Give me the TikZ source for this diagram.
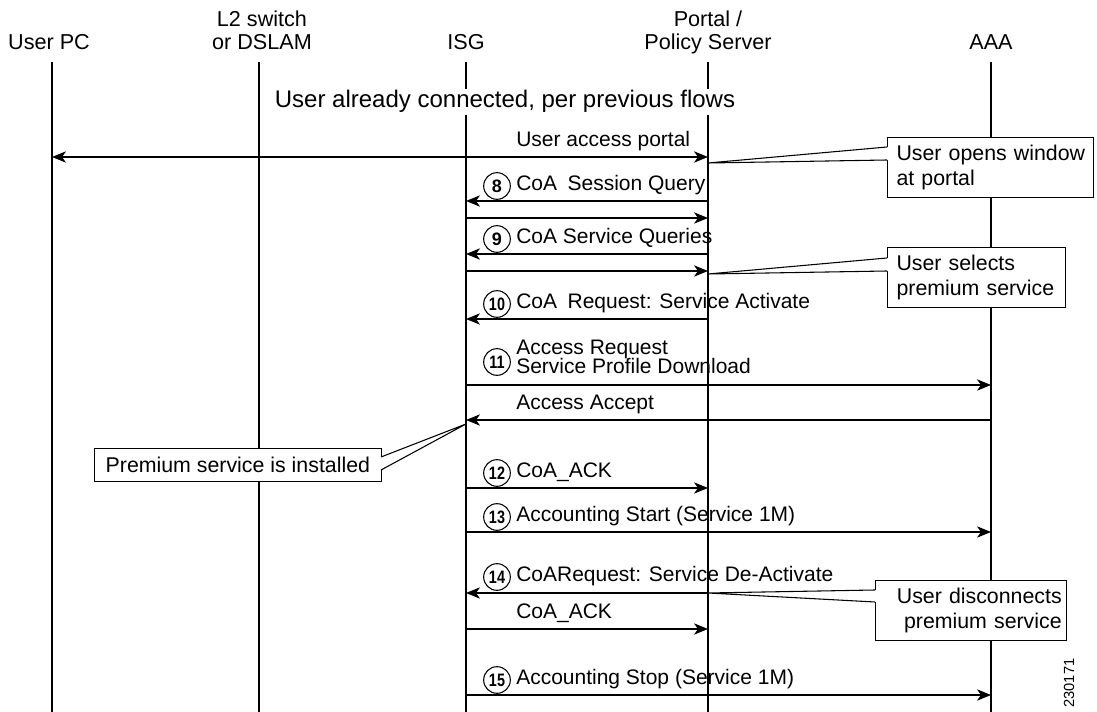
\documentclass[tikz,border=0pt]{standalone}
\usepackage{fontspec}
\setmainfont{Liberation Sans}
\usetikzlibrary{arrows.meta}
\begin{document}
\begin{tikzpicture}[x=0.75pt,y=-0.75pt,
  life/.style={line width=0.9pt},
  msg/.style={line width=0.9pt,-{Stealth[length=10.5pt,width=8.5pt,inset=3pt]}},
  msgboth/.style={line width=0.9pt,{Stealth[length=10.5pt,width=8.5pt,inset=3pt]}-{Stealth[length=10.5pt,width=8.5pt,inset=3pt]}},
  head/.style={font=\fontsize{16.2}{18}\selectfont, anchor=base, inner sep=0pt},
  lbl/.style={font=\fontsize{15.75}{15}\selectfont, anchor=base west, inner sep=0pt},
  num/.style={circle, draw, line width=0.8pt, minimum size=20pt, inner sep=0pt, font=\fontsize{13.5}{13.5}\bfseries},
  note/.style={draw, fill=white, line width=0.8pt, font=\fontsize{16}{18.5}\selectfont, align=left, inner sep=0pt, anchor=north west},
  callout/.style={line width=0.8pt}]
\useasboundingbox (0,0) rectangle (1097,712);
% headers
\node[head] (pc) at (49,50) {User PC};
\node[head] (l2a) at (262,27) {L2 switch};
\node[head] (l2b) at (262,50) {or DSLAM};
\node[head] (isg) at (466,50) {ISG};
\node[head] (pta) at (708,27) {Portal /};
\node[head] (ptb) at (708,50) {Policy Server};
\node[head] (aaa) at (991,50) {AAA};
% lifeline ends
\coordinate (pcT) at (52,62);   \coordinate (pcB) at (52,712);
\coordinate (l2T) at (259,62);  \coordinate (l2B) at (259,712);
\coordinate (isT) at (466,62);  \coordinate (isB) at (466,712);
\coordinate (poT) at (708,62);  \coordinate (poB) at (708,712);
\coordinate (aaT) at (991,62);  \coordinate (aaB) at (991,712);
\draw[life] (pcT) -- (pcB);
\draw[life] (l2T) -- (l2B);
\draw[life] (isT) -- (isB);
\draw[life] (poT) -- (poB);
\draw[life] (aaT) -- (aaB);
\node[font=\fontsize{18}{18}\selectfont, anchor=base, fill=white, inner xsep=0pt, inner ysep=1.5pt] (conn) at (505,108) {User already connected, per previous flows};
% message end points
\foreach \n/\y in {m0/157,m8/201,m8b/218,m9/254,m9b/271,m10/319,m11/385,mAA/420,m12/488,m13/532,m14/593,mACK/629,m15/695}{
  \coordinate (\n pc) at (52,\y);
  \coordinate (\n is) at (466,\y);
  \coordinate (\n po) at (708,\y);
  \coordinate (\n aa) at (991,\y);
}
% messages
\draw[msgboth] (m0pc) -- (m0po);
\node[lbl] (t0) at (516,147) {User access portal};
\draw[msg] (m8po) -- (m8is);
\node[num] (c8) at (497,186) {8};
\node[lbl] (t8) at (516,191) {CoA\hspace{0.5em}Session Query};
\draw[msg] (m8bis) -- (m8bpo);
\draw[msg] (m9po) -- (m9is);
\node[num] (c9) at (497,239) {9};
\node[lbl] (t9) at (516,244) {CoA Service Queries};
\draw[msg] (m9bis) -- (m9bpo);
\draw[msg] (m10po) -- (m10is);
\node[num] (c10) at (497,304) {\addfontfeature{FakeStretch=0.8}10};
\node[lbl] (t10) at (516,309) {CoA\hspace{0.5em}Request: Service Activate};
\draw[msg] (m11is) -- (m11aa);
\node[num] (c11) at (497,362) {\addfontfeature{FakeStretch=0.8}11};
\node[lbl] (t11a) at (516,355) {Access Request};
\node[lbl] (t11b) at (516,374) {Service Profile Download};
\draw[msg] (mAAaa) -- (mAAis);
\node[lbl] (tAA) at (516,410) {Access Accept};
\draw[msg] (m12is) -- (m12po);
\node[num] (c12) at (497,473) {\addfontfeature{FakeStretch=0.8}12};
\node[lbl] (t12) at (516,478) {CoA\_ACK};
\draw[msg] (m13is) -- (m13aa);
\node[num] (c13) at (497,517) {\addfontfeature{FakeStretch=0.8}13};
\node[lbl] (t13) at (516,522) {Accounting Start (Service 1M)};
\draw[msg] (m14po) -- (m14is);
\node[num] (c14) at (497,577) {\addfontfeature{FakeStretch=0.8}14};
\node[lbl] (t14) at (516,582) {CoARequest: Service De-Activate};
\draw[msg] (mACKis) -- (mACKpo);
\node[lbl] (tACK) at (516,619) {CoA\_ACK};
\draw[msg] (m15is) -- (m15aa);
\node[num] (c15) at (497,680) {\addfontfeature{FakeStretch=0.8}15};
\node[lbl] (t15) at (516,685) {Accounting Stop (Service 1M)};
% notes
\node[note, minimum width=154.5pt, minimum height=45pt, text width=141pt] (n1) at (887,137) {\mbox{User opens window}\\at portal};
\coordinate (n1tip) at (708,163);
\coordinate (n1a) at (887,147); \coordinate (n1b) at (887,160);
\coordinate (n1ai) at (888.5,147); \coordinate (n1bi) at (888.5,160);
\fill[white] (n1tip) -- (n1ai) -- (n1bi) -- cycle;
\draw[callout] (n1a) -- (n1tip) -- (n1b);

\node[note, minimum width=133.5pt, minimum height=45pt, text width=120pt] (n2) at (887,247) {User selects\\premium service};
\coordinate (n2tip) at (708,274);
\coordinate (n2a) at (887,258); \coordinate (n2b) at (887,271);
\coordinate (n2ai) at (888.5,258); \coordinate (n2bi) at (888.5,271);
\fill[white] (n2tip) -- (n2ai) -- (n2bi) -- cycle;
\draw[callout] (n2a) -- (n2tip) -- (n2b);

\node[note, minimum width=215pt, minimum height=24.75pt, align=center] (n3) at (94,448) {Premium service is installed};
\coordinate (n3tip) at (466,424);
\coordinate (n3a) at (381,457); \coordinate (n3b) at (381,470);
\coordinate (n3ai) at (379.5,457); \coordinate (n3bi) at (379.5,470);
\fill[white] (n3tip) -- (n3ai) -- (n3bi) -- cycle;
\draw[callout] (n3a) -- (n3tip) -- (n3b);

\node[note, minimum width=143.25pt, minimum height=45pt, text width=136pt, align=right] (n4) at (875,580) {User disconnects\\premium service};
\coordinate (n4tip) at (708,593);
\coordinate (n4a) at (875,590); \coordinate (n4b) at (875,602);
\coordinate (n4ai) at (876.5,590); \coordinate (n4bi) at (876.5,602);
\fill[white] (n4tip) -- (n4ai) -- (n4bi) -- cycle;
\draw[callout] (n4a) -- (n4tip) -- (n4b);

\node[rotate=90, font=\fontsize{11}{11}\selectfont, inner sep=0pt] (fig) at (1069,683) {230171};
\end{tikzpicture}
\end{document}
